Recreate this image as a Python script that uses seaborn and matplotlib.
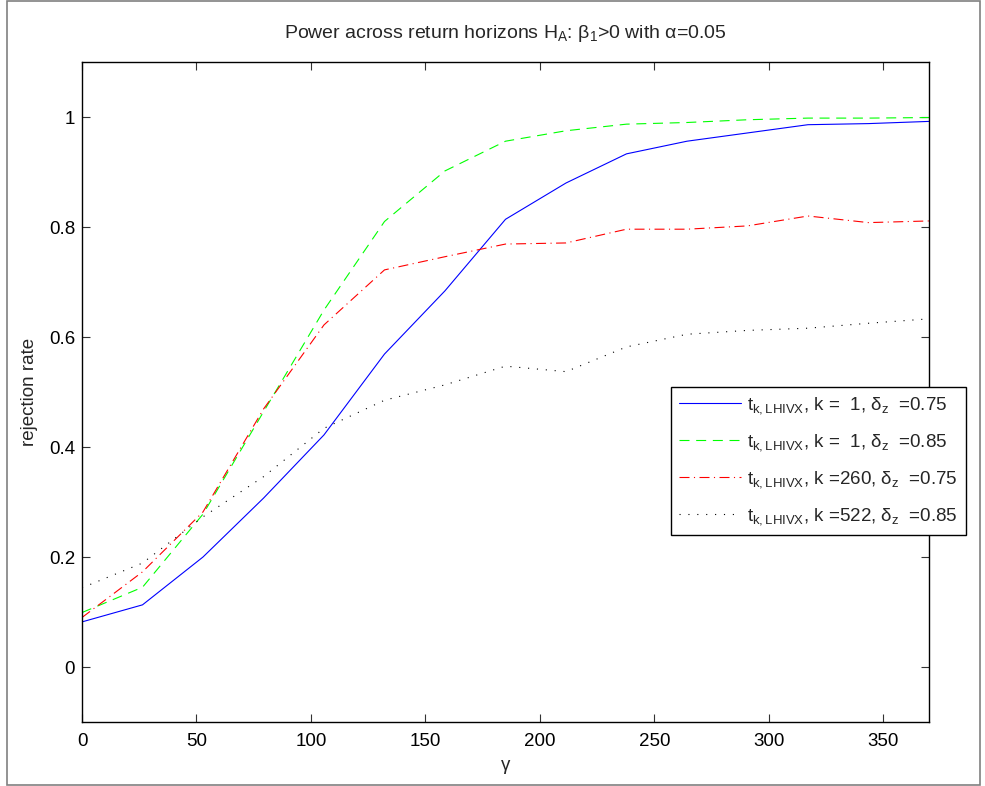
import numpy as np
import pandas as pd
import matplotlib
matplotlib.use("Agg")
import matplotlib.pyplot as plt
import seaborn as sns
from matplotlib.patches import Rectangle

# ---- data ----
gamma = [0, 26.43, 52.86, 79.29, 105.71, 132.14, 158.57, 185.0,
         211.43, 237.86, 264.29, 290.71, 317.14, 343.57, 370.0]
s_k1_075 = [0.082, 0.113, 0.200, 0.307, 0.422, 0.569, 0.684, 0.814,
            0.880, 0.933, 0.956, 0.971, 0.986, 0.988, 0.992]
s_k1_085 = [0.099, 0.145, 0.278, 0.464, 0.649, 0.810, 0.902, 0.956,
            0.975, 0.987, 0.990, 0.995, 0.998, 0.998, 0.999]
s_k260_075 = [0.090, 0.173, 0.282, 0.469, 0.622, 0.722, 0.746, 0.769,
              0.771, 0.796, 0.796, 0.802, 0.820, 0.808, 0.811]
s_k522_085 = [0.144, 0.189, 0.273, 0.346, 0.434, 0.485, 0.513, 0.547,
              0.537, 0.582, 0.605, 0.612, 0.616, 0.625, 0.633]

labels = [
    r"t$_{\mathregular{k,LHIVX}}$, k =  1, δ$_{\mathregular{z}}$  =0.75",
    r"t$_{\mathregular{k,LHIVX}}$, k =  1, δ$_{\mathregular{z}}$  =0.85",
    r"t$_{\mathregular{k,LHIVX}}$, k =260, δ$_{\mathregular{z}}$  =0.75",
    r"t$_{\mathregular{k,LHIVX}}$, k =522, δ$_{\mathregular{z}}$  =0.85",
]
series = [s_k1_075, s_k1_085, s_k260_075, s_k522_085]
colors = ["#0000ff", "#00ff00", "#ff0000", "#000000"]
dash_styles = ["", (9, 6), (9, 4, 1, 4), (1, 7)]
xticks = [0, 50, 100, 150, 200, 250, 300, 350]
yticks = [0, 0.2, 0.4, 0.6, 0.8, 1]
ytick_labels = ["0", "0.2", "0.4", "0.6", "0.8", "1"]

df = pd.concat([pd.DataFrame({"gamma": gamma, "rate": v, "series": lab})
                for lab, v in zip(labels, series)], ignore_index=True)

sns.set_theme(style="ticks")
plt.rcParams["font.family"] = ["Liberation Sans", "DejaVu Sans"]
plt.rcParams["mathtext.fontset"] = "custom"
plt.rcParams["mathtext.rm"] = "Liberation Sans"
plt.rcParams["mathtext.it"] = "Liberation Sans"
plt.rcParams["mathtext.bf"] = "Liberation Sans:bold"

fig = plt.figure(figsize=(9.85, 7.86), dpi=100)
fig.patch.set_facecolor("white")
fig.add_artist(Rectangle((7 / 985, 1 / 786), 973 / 985, 784 / 786,
                         transform=fig.transFigure, fill=False,
                         edgecolor="#808080", linewidth=1.2))
ax = fig.add_axes([82 / 985, (786 - 722) / 786, 847 / 985, 660 / 786])

sns.lineplot(data=df, x="gamma", y="rate", hue="series", style="series",
             palette=dict(zip(labels, colors)),
             dashes=dict(zip(labels, dash_styles)),
             linewidth=0.8, ax=ax, legend=False)

ax.set_xlim(0, 370)
ax.set_ylim(-0.1, 1.1)
ax.set_xticks(xticks)
ax.set_xticklabels([str(t) for t in xticks])
ax.set_yticks(yticks)
ax.set_yticklabels(ytick_labels)
fs = 13.5
ax.tick_params(direction="in", length=6, width=0.8, colors="#333333",
               labelcolor="black", labelsize=fs, top=True, right=True)
ax.tick_params(axis="x", pad=8)
ax.tick_params(axis="y", pad=5)
for sp in ax.spines.values():
    sp.set_visible(True)
    sp.set_linewidth(1.0)
    sp.set_color("black")

ax.set_xlabel("γ", fontsize=fs, labelpad=5)
ax.set_ylabel("rejection rate", fontsize=fs, labelpad=8)
ax.set_title(r"Power across return horizons H$_{\mathregular{A}}$: β$_{\mathregular{1}}$>0 with α=0.05",
             fontsize=14, pad=17)

handles = ax.get_lines()[:4]
leg = ax.legend(handles, labels, loc="lower left",
                bbox_to_anchor=(0.695, 0.283), fontsize=fs,
                frameon=True, fancybox=False, framealpha=1, edgecolor="black",
                handlelength=3.3, labelspacing=0.85, borderpad=0.45,
                handletextpad=0.3, borderaxespad=0)
leg.get_frame().set_linewidth(1.0)

fig.savefig("out.png", dpi=100)
